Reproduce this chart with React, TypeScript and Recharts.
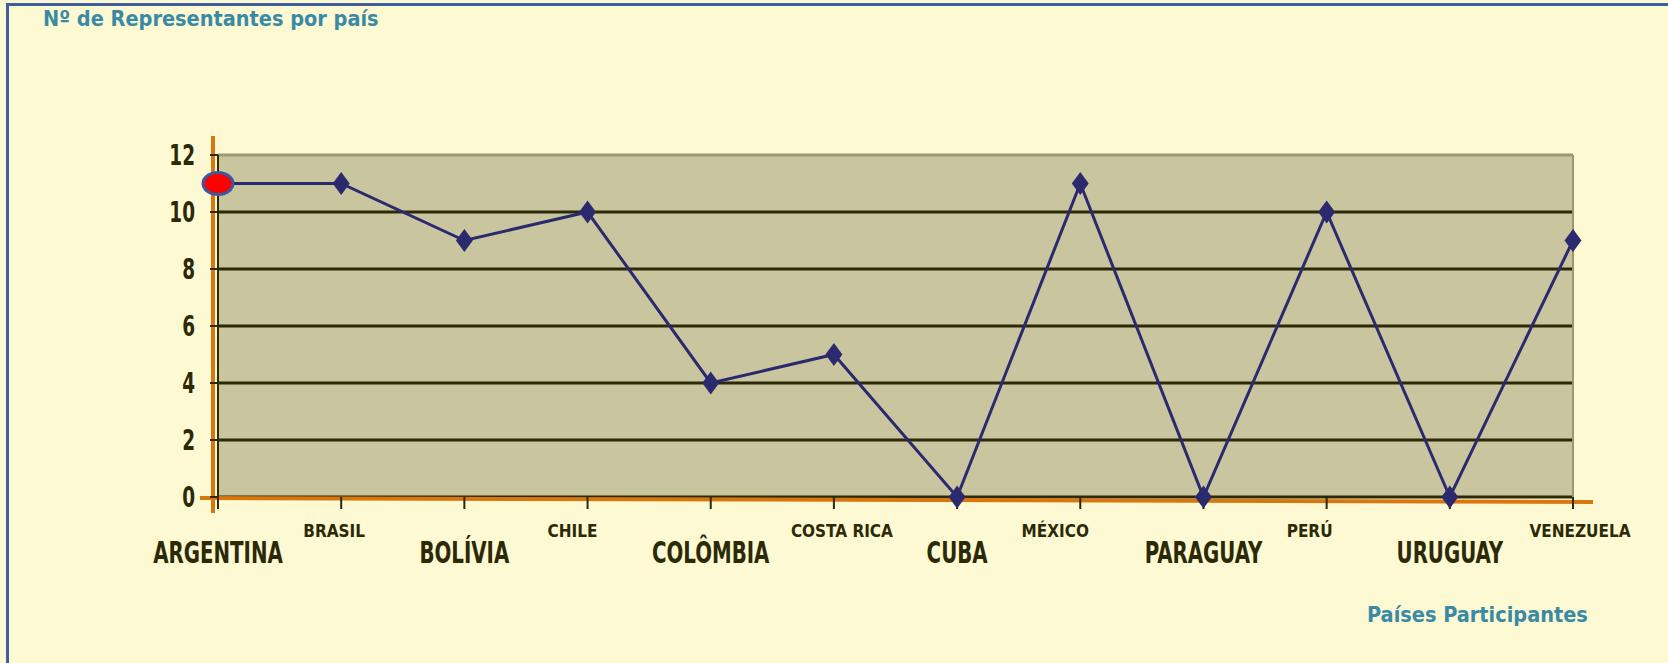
import { LineChart, Line, XAxis, YAxis, CartesianGrid, ReferenceLine, Customized } from 'recharts';

// countries on the x axis, in the order shown
const countries = [
	'ARGENTINA',
	'BRASIL',
	'BOLÍVIA',
	'CHILE',
	'COLÔMBIA',
	'COSTA RICA',
	'CUBA',
	'MÉXICO',
	'PARAGUAY',
	'PERÚ',
	'URUGUAY',
	'VENEZUELA',
];

// number of representatives per country
const representatives = [11, 11, 9, 10, 4, 5, 0, 11, 0, 10, 0, 9];

const yTicks = [0, 2, 4, 6, 8, 10, 12];
const gridValues = [0, 2, 4, 6, 8, 10];

const chartData = countries.map((country, i) => ({
	country,
	value: representatives[i],
}));

// layout
const W = 1668;
const H = 663;
const PLOT_LEFT = 218;
const PLOT_TOP = 155;
const PLOT_RIGHT = 1573;
const PLOT_BOTTOM = 497;
const Y_AXIS_W = 60;
const X_AXIS_H = 60;

// colours
const BG = '#FDF9D3';
const PLOT_BG = '#C9C69F';
const DARK = '#2B2906';
const BORDER = '#9A9870';
const ORANGE = '#D9770F';
const NAVY = '#2B2A6E';
const TEAL = '#3A8AA6';
const FONT = '"DejaVu Sans Condensed", "DejaVu Sans", sans-serif';

// small labels were nudged by hand in the original
const smallNudge: Record<string, number> = {
	BRASIL: -7,
	CHILE: -15,
	'COSTA RICA': 8,
	'MÉXICO': -25,
	'PERÚ': -17,
	VENEZUELA: 7,
};

function XTick(props: any) {
	const { x, y, payload, index } = props;
	const big = index % 2 === 0;
	if (big) {
		return (
			<g transform={`translate(${x},${y + 54}) scale(1,1.4)`}>
				<text textAnchor="middle" fontFamily={FONT} fontWeight="bold" fontSize={22} fill={DARK}>
					{payload.value}
				</text>
			</g>
		);
	}
	const dx = smallNudge[payload.value] || 0;
	return (
		<text
			x={x + dx}
			y={y + 28}
			textAnchor="middle"
			fontFamily={FONT}
			fontWeight="bold"
			fontSize={17}
			fill={DARK}
		>
			{payload.value}
		</text>
	);
}

function YTick(props: any) {
	const { x, y, payload } = props;
	return (
		<g transform={`translate(${x},${y}) scale(1,1.4)`}>
			<text x={0} y={7} textAnchor="end" fontFamily={FONT} fontWeight="bold" fontSize={20.5} fill={DARK}>
				{payload.value}
			</text>
		</g>
	);
}

function PointDot(props: any) {
	const { cx, cy, index } = props;
	if (cx == null || cy == null) return null;
	if (index === 0) {
		return (
			<ellipse
				key={`dot-${index}`}
				cx={cx}
				cy={cy}
				rx={15}
				ry={11}
				fill="#FF0000"
				stroke="#3A5A9E"
				strokeWidth={3}
			/>
		);
	}
	const w = 8.5;
	const h = 11.5;
	return (
		<polygon
			key={`dot-${index}`}
			points={`${cx},${cy - h} ${cx + w},${cy} ${cx},${cy + h} ${cx - w},${cy}`}
			fill={NAVY}
		/>
	);
}

// the orange axis lines stick out past the plot area
function OrangeAxes() {
	return (
		<g>
			<line x1={213} y1={136} x2={213} y2={513} stroke={ORANGE} strokeWidth={4} />
			<line x1={200} y1={498} x2={PLOT_RIGHT + 20} y2={502} stroke={ORANGE} strokeWidth={4} />
		</g>
	);
}

export default function App() {
	return (
		<div
			style={{
				position: 'absolute',
				left: 0,
				top: 0,
				width: W,
				height: H,
				background: BG,
				overflow: 'hidden',
			}}
		>
			{/* blue frame, cut off on the right and bottom */}
			<div
				style={{
					position: 'absolute',
					left: 6,
					top: 3,
					width: W,
					height: H,
					borderTop: '3px solid #3F5E9E',
					borderLeft: '3px solid #3F5E9E',
				}}
			/>
			<LineChart
				width={W}
				height={H}
				data={chartData}
				margin={{
					top: PLOT_TOP,
					right: W - PLOT_RIGHT,
					bottom: H - PLOT_BOTTOM - X_AXIS_H,
					left: PLOT_LEFT - Y_AXIS_W,
				}}
				style={{ position: 'absolute', left: 0, top: 0 }}
			>
				<CartesianGrid
					vertical={false}
					horizontalValues={gridValues}
					stroke={DARK}
					strokeWidth={3}
					fill={PLOT_BG}
					fillOpacity={1}
				/>
				<ReferenceLine y={12} stroke={BORDER} strokeWidth={3} />
				<ReferenceLine x="VENEZUELA" stroke={BORDER} strokeWidth={2} />
				<ReferenceLine x="ARGENTINA" stroke={DARK} strokeWidth={2} />
				<XAxis
					dataKey="country"
					height={X_AXIS_H}
					interval={0}
					axisLine={false}
					tickSize={12}
					tickMargin={0}
					tickLine={{ stroke: DARK, strokeWidth: 2 }}
					tick={<XTick />}
				/>
				<YAxis
					width={Y_AXIS_W}
					domain={[0, 12]}
					ticks={yTicks}
					axisLine={false}
					tickSize={8}
					tickMargin={15}
					tickLine={{ stroke: DARK, strokeWidth: 2 }}
					tick={<YTick />}
				/>
				<Customized component={OrangeAxes} />
				<Line
					type="linear"
					dataKey="value"
					stroke={NAVY}
					strokeWidth={3}
					dot={PointDot}
					activeDot={false}
					isAnimationActive={false}
				/>
			</LineChart>
			<div
				style={{
					position: 'absolute',
					left: 43,
					top: 6,
					fontFamily: FONT,
					fontWeight: 'bold',
					fontSize: 21.5,
					color: TEAL,
					whiteSpace: 'nowrap',
				}}
			>
				Nº de Representantes por país
			</div>
			<div
				style={{
					position: 'absolute',
					left: 1367,
					top: 602,
					fontFamily: FONT,
					fontWeight: 'bold',
					fontSize: 21.5,
					color: TEAL,
					whiteSpace: 'nowrap',
				}}
			>
				Países Participantes
			</div>
		</div>
	);
}
